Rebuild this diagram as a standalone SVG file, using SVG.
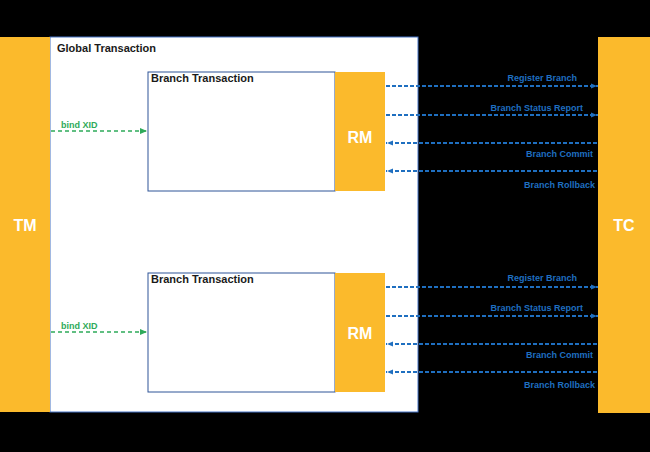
<svg xmlns="http://www.w3.org/2000/svg" width="650" height="452" viewBox="0 0 650 452">
<defs>
<style>
.or{fill:#FBBA2C;}
.big{font-family:"Liberation Sans",Arial,sans-serif;font-weight:bold;font-size:16px;fill:#fff;text-anchor:middle;}
.ttl{font-family:"Liberation Sans",Arial,sans-serif;font-weight:bold;font-size:11px;fill:#1a1a1a;}
.box{fill:#fff;stroke:#2F5597;stroke-width:1;}
.g{stroke:#2EAA5A;stroke-width:1.5;stroke-dasharray:4,3;fill:none;}
.gt{font-family:"Liberation Sans",Arial,sans-serif;font-weight:bold;font-size:9px;fill:#2EAA5A;}
.b{stroke:#1F6FC0;stroke-width:1.8;stroke-dasharray:4,2;fill:none;}
.bt{font-family:"Liberation Sans",Arial,sans-serif;font-weight:bold;font-size:9px;fill:#1F6FC0;text-anchor:end;}
</style>
<marker id="ag" markerWidth="8" markerHeight="8" refX="7" refY="4" orient="auto" markerUnits="userSpaceOnUse"><path d="M0,1 L7,4 L0,7 z" fill="#2EAA5A"/></marker>
<marker id="ab" markerWidth="8" markerHeight="8" refX="7" refY="4" orient="auto" markerUnits="userSpaceOnUse"><path d="M0,1.5 L6,4 L0,6.5 z" fill="#1F6FC0"/></marker>
</defs>
<rect width="650" height="452" fill="#000"/>
<g id="global">
<rect x="50" y="37" width="368" height="375" fill="#fff" stroke="#4472C4" stroke-width="1"/>
<text class="ttl" x="57" y="52">Global Transaction</text>
</g>
<g id="tm">
<rect class="or" x="0" y="37" width="50" height="375"/>
<text class="big" x="25" y="231">TM</text>
</g>
<g id="tc">
<rect class="or" x="598" y="37" width="52" height="376"/>
<text class="big" x="624" y="231">TC</text>
</g>
<g id="branch1">
<rect class="box" x="148" y="72" width="187" height="119"/>
<text class="ttl" x="151" y="82">Branch Transaction</text>
</g>
<g id="rm1">
<rect class="or" x="335" y="72" width="50" height="119"/>
<text class="big" x="360" y="143">RM</text>
</g>
<g id="branch2">
<rect class="box" x="148" y="273" width="187" height="119"/>
<text class="ttl" x="151" y="283">Branch Transaction</text>
</g>
<g id="rm2">
<rect class="or" x="335" y="273" width="50" height="119"/>
<text class="big" x="360" y="339">RM</text>
</g>
<g id="connectors">
<line class="g" x1="51" y1="131" x2="147" y2="131" marker-end="url(#ag)"/>
<text class="gt" x="61" y="128">bind XID</text>
<line class="g" x1="51" y1="332" x2="147" y2="332" marker-end="url(#ag)"/>
<text class="gt" x="61" y="329">bind XID</text>

<line class="b" x1="386" y1="86" x2="598" y2="86" marker-end="url(#ab)"/>
<text class="bt" x="577" y="81">Register Branch</text>
<line class="b" x1="386" y1="115" x2="598" y2="115" marker-end="url(#ab)"/>
<text class="bt" x="583" y="111">Branch Status Report</text>
<line class="b" x1="597" y1="143" x2="386" y2="143" marker-end="url(#ab)"/>
<text class="bt" x="593" y="157">Branch Commit</text>
<line class="b" x1="597" y1="171" x2="386" y2="171" marker-end="url(#ab)"/>
<text class="bt" x="595" y="188">Branch Rollback</text>

<line class="b" x1="386" y1="287" x2="598" y2="287" marker-end="url(#ab)"/>
<text class="bt" x="577" y="281">Register Branch</text>
<line class="b" x1="386" y1="316" x2="598" y2="316" marker-end="url(#ab)"/>
<text class="bt" x="583" y="311">Branch Status Report</text>
<line class="b" x1="597" y1="344" x2="386" y2="344" marker-end="url(#ab)"/>
<text class="bt" x="593" y="358">Branch Commit</text>
<line class="b" x1="597" y1="372" x2="386" y2="372" marker-end="url(#ab)"/>
<text class="bt" x="595" y="388">Branch Rollback</text>
</g>
</svg>
